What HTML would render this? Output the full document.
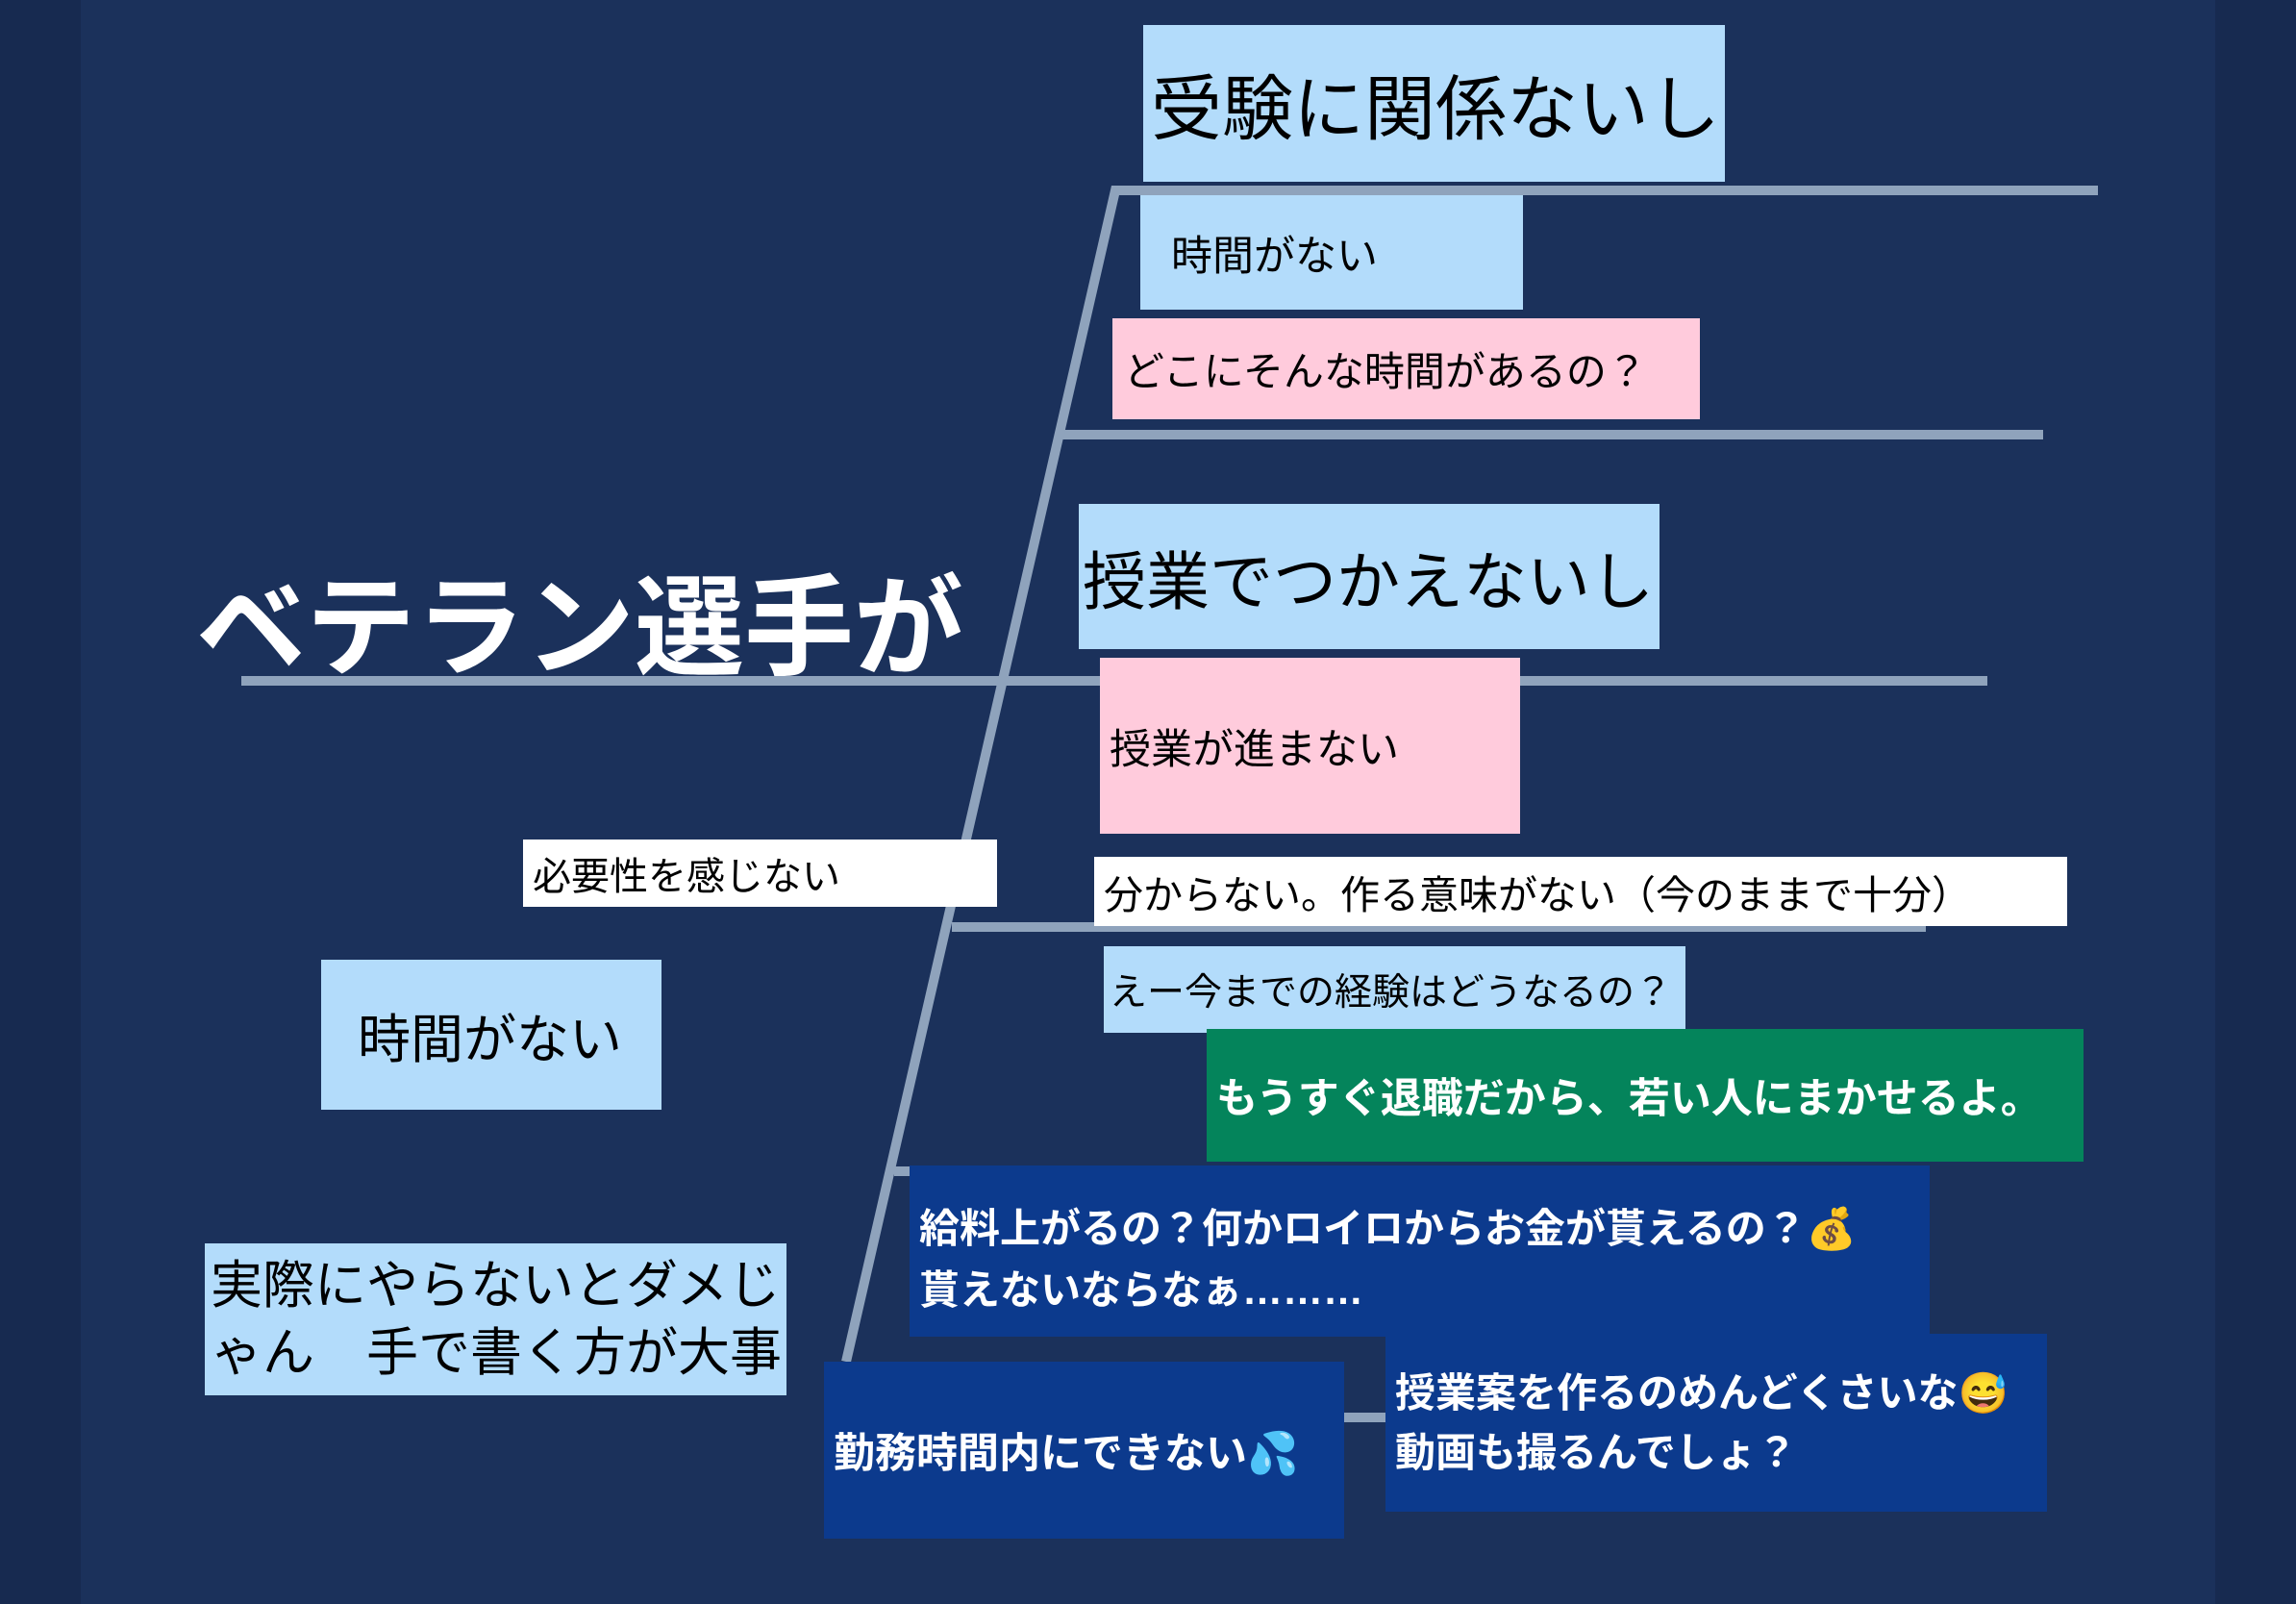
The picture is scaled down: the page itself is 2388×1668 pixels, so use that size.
<!DOCTYPE html>
<html><head><meta charset="utf-8"><style>
html,body{margin:0;padding:0}
body{width:2388px;height:1668px;position:relative;overflow:hidden;background:#1b315b;font-family:"Liberation Sans","Noto Sans CJK JP",sans-serif}
.b{position:absolute;box-sizing:border-box;display:flex;align-items:center;white-space:nowrap;color:#000}
.lb{background:#b3dcfb}.pk{background:#ffcbdc}.wh{background:#fff}
.nv{background:#0c3a8d;color:#fff;font-weight:bold}
.gr{background:#04845b;color:#fff;font-weight:bold}
</style></head><body>
<div style="position:absolute;left:0;top:0;width:84px;height:1668px;background:#172a50"></div>
<div style="position:absolute;right:0;top:0;width:84px;height:1668px;background:#172a50"></div>
<svg width="2388" height="1668" style="position:absolute;left:0;top:0">
<g stroke="#8fa3bc" stroke-width="10" fill="none">
<line x1="1157" y1="198" x2="2182" y2="198"/>
<line x1="1104" y1="452" x2="2125" y2="452"/>
<line x1="251" y1="708" x2="2067" y2="708"/>
<line x1="990" y1="964" x2="2003" y2="964"/>
<line x1="930" y1="1218" x2="950" y2="1218"/>
<line x1="1398" y1="1474" x2="1441" y2="1474"/>
<polyline points="2182,198 1160,198 880,1416"/>
</g>
</svg>
<div style="position:absolute;left:204px;top:598px;font-size:114px;font-weight:bold;color:#fff;white-space:nowrap;line-height:1">ベテラン選手が</div>
<div class="b lb" style="left:1189px;top:26px;width:605px;height:163px;font-size:74px;padding-left:8px">受験に関係ないし</div>
<div class="b lb" style="left:1186px;top:203px;width:398px;height:119px;font-size:43px;padding-left:32px">時間がない</div>
<div class="b pk" style="left:1157px;top:331px;width:611px;height:105px;font-size:42px;padding-left:12px">どこにそんな時間があるの？</div>
<div class="b lb" style="left:1122px;top:524px;width:604px;height:151px;font-size:66px;padding-left:4px">授業でつかえないし</div>
<div class="b pk" style="left:1144px;top:684px;width:437px;height:183px;font-size:43px;padding-left:10px">授業が進まない</div>
<div class="b wh" style="left:544px;top:873px;width:493px;height:70px;font-size:40px;padding-left:10px">必要性を感じない</div>
<div class="b wh" style="left:1138px;top:891px;width:1012px;height:72px;font-size:41px;padding-left:10px">分からない。作る意味がない（今のままで十分）</div>
<div class="b lb" style="left:1148px;top:984px;width:605px;height:90px;font-size:39px;padding-left:6px">えー今までの経験はどうなるの？</div>
<div class="b lb" style="left:334px;top:998px;width:354px;height:156px;font-size:55px;padding-left:38px">時間がない</div>
<div class="b gr" style="left:1255px;top:1070px;width:912px;height:138px;font-size:43px;padding-left:10px">もうすぐ退職だから、若い人にまかせるよ。</div>
<div class="b nv" style="left:946px;top:1212px;width:1061px;height:178px;font-size:42px;padding-left:10px;white-space:normal;line-height:64px;align-items:flex-start;padding-top:34px">給料上がるの？何かロイロからお金が貰えるの？💰<br>貰えないならなぁ………</div>
<div class="b lb" style="left:213px;top:1293px;width:605px;height:158px;font-size:54px;padding-left:6px;white-space:normal;line-height:70px">実際にやらないとダメじゃん　手で書く方が大事</div>
<div class="b nv" style="left:857px;top:1416px;width:541px;height:184px;font-size:43px;padding-left:10px">勤務時間内にできない💦</div>
<div class="b nv" style="left:1441px;top:1387px;width:688px;height:185px;font-size:42px;padding-left:10px;white-space:normal;line-height:62px">授業案を作るのめんどくさいな😅<br>動画も撮るんでしょ？</div>
</body></html>
